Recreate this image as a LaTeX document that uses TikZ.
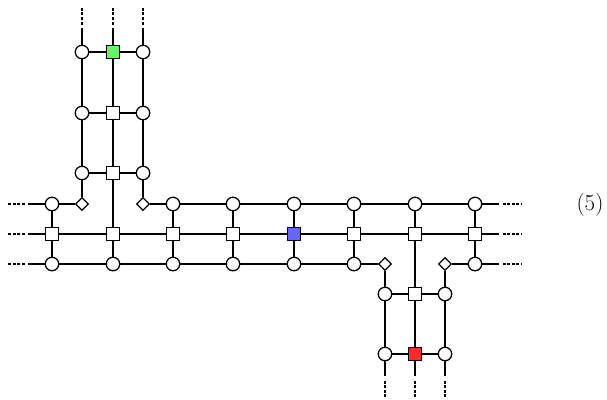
\documentclass[tikz,border=0pt]{standalone}
\usetikzlibrary{shapes.geometric}
\definecolor{qgreen}{RGB}{102,245,102}
\definecolor{qblue}{RGB}{102,102,250}
\definecolor{qred}{RGB}{245,45,45}
\begin{document}
\begin{tikzpicture}[x=1pt,y=-1pt,
  circ/.style={circle,draw,fill=white,minimum size=13.5pt,inner sep=0pt,line width=1.3pt},
  sqr/.style={rectangle,draw,fill=white,minimum size=12.5pt,inner sep=0pt,line width=1.3pt},
  dia/.style={diamond,draw,fill=white,minimum size=13pt,inner sep=0pt,line width=1.2pt},
  wire/.style={line width=1.6pt},
  dwire/.style={line width=1.5pt,dash pattern=on 3pt off 1.6pt},
  lbl/.style={inner sep=0pt,font=\fontsize{23}{28}\selectfont}]
\useasboundingbox (0,0) rectangle (607,399);
% coordinates
\def\cA{52}\def\cB{113}\def\cC{173}\def\cD{233}\def\cE{294}\def\cF{354}\def\cG{415}\def\cH{475}
\def\ra{204}\def\rb{234}\def\rc{264}
% top section
\node[circ] (a0) at (82,52) {};
\node[circ] (a1) at (82,113) {};
\node[circ] (a2) at (82,173) {};
\node[sqr,fill=qgreen] (b0) at (\cB,52) {};
\node[sqr] (b1) at (\cB,113) {};
\node[sqr] (b2) at (\cB,173) {};
\node[circ] (c0) at (143,52) {};
\node[circ] (c1) at (143,113) {};
\node[circ] (c2) at (143,173) {};
% row A
\node[circ] (A1) at (\cA,\ra) {};
\node[dia] (dL) at (82,\ra) {};
\node[dia] (dR) at (143,\ra) {};
\node[circ] (A3) at (\cC,\ra) {};
\node[circ] (A4) at (\cD,\ra) {};
\node[circ] (A5) at (\cE,\ra) {};
\node[circ] (A6) at (\cF,\ra) {};
\node[circ] (A7) at (\cG,\ra) {};
\node[circ] (A8) at (\cH,\ra) {};
% row B
\node[sqr] (B1) at (\cA,\rb) {};
\node[sqr] (B2) at (\cB,\rb) {};
\node[sqr] (B3) at (\cC,\rb) {};
\node[sqr] (B4) at (\cD,\rb) {};
\node[sqr,fill=qblue] (B5) at (\cE,\rb) {};
\node[sqr] (B6) at (\cF,\rb) {};
\node[sqr] (B7) at (\cG,\rb) {};
\node[sqr] (B8) at (\cH,\rb) {};
% row C
\node[circ] (C1) at (\cA,\rc) {};
\node[circ] (C2) at (\cB,\rc) {};
\node[circ] (C3) at (\cC,\rc) {};
\node[circ] (C4) at (\cD,\rc) {};
\node[circ] (C5) at (\cE,\rc) {};
\node[circ] (C6) at (\cF,\rc) {};
\node[dia] (eL) at (385,\rc) {};
\node[dia] (eR) at (445,\rc) {};
\node[circ] (C8) at (\cH,\rc) {};
% bottom section
\node[circ] (p3) at (385,294) {};
\node[circ] (p4) at (385,354) {};
\node[sqr] (q3) at (\cG,294) {};
\node[sqr,fill=qred] (q4) at (\cG,354) {};
\node[circ] (s3) at (445,294) {};
\node[circ] (s4) at (445,354) {};
% label
\node[lbl] (eq) at (590,205) {(5)};
% dangling-end coordinates
\foreach \n/\x in {a/82,b/\cB,c/143}{
  \coordinate (\n t1) at (\x,28);
  \coordinate (\n t2) at (\x,24.5);
  \coordinate (\n t3) at (\x,7);}
\foreach \n/\y in {A/\ra,B/\rb,C/\rc}{
  \coordinate (\n l1) at (28,\y);
  \coordinate (\n l2) at (25,\y);
  \coordinate (\n l3) at (7,\y);
  \coordinate (\n r1) at (499,\y);
  \coordinate (\n r2) at (502.5,\y);
  \coordinate (\n r3) at (521,\y);}
\foreach \n/\x in {p/385,q/\cG,s/445}{
  \coordinate (\n b1) at (\x,376);
  \coordinate (\n b2) at (\x,380.5);
  \coordinate (\n b3) at (\x,398);}
% wires: top section
\draw[wire] (a0)--(b0)--(c0) (a1)--(b1)--(c1) (a2)--(b2)--(c2);
\draw[wire] (a0)--(a1)--(a2)--(dL);
\draw[wire] (c0)--(c1)--(c2)--(dR);
\draw[wire] (b0)--(b1)--(b2)--(B2)--(C2);
\foreach \n in {a,b,c}{
  \draw[wire] (\n0)--(\n t1);
  \draw[dwire] (\n t2)--(\n t3);}
% main rows
\draw[wire] (A1)--(dL) (dR)--(A3)--(A4)--(A5)--(A6)--(A7)--(A8);
\draw[wire] (B1)--(B2)--(B3)--(B4)--(B5)--(B6)--(B7)--(B8);
\draw[wire] (C1)--(C2)--(C3)--(C4)--(C5)--(C6)--(eL) (eR)--(C8);
\foreach \n in {A,B,C}{
  \draw[wire] (\n1)--(\n l1);
  \draw[dwire] (\n l2)--(\n l3);
  \draw[wire] (\n8)--(\n r1);
  \draw[dwire] (\n r2)--(\n r3);}
% verticals in main
\foreach \k in {1,3,4,5,6,8}{
  \draw[wire] (A\k)--(B\k)--(C\k);}
\draw[wire] (A7)--(B7)--(q3)--(q4);
% bottom section
\draw[wire] (eL)--(p3)--(p4);
\draw[wire] (eR)--(s3)--(s4);
\draw[wire] (p3)--(q3)--(s3) (p4)--(q4)--(s4);
\foreach \n in {p,q,s}{
  \draw[wire] (\n4)--(\n b1);
  \draw[dwire] (\n b2)--(\n b3);}
\end{tikzpicture}
\end{document}
